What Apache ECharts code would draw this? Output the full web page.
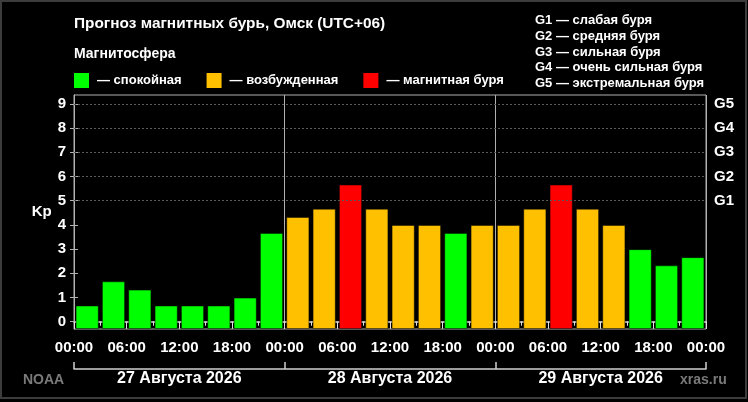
<!DOCTYPE html>
<html><head><meta charset="utf-8">
<script src="https://cdn.jsdelivr.net/npm/echarts@6/dist/echarts.min.js"></script>
<style>
html,body{margin:0;padding:0;background:#000;}
#wrap{position:relative;width:748px;height:402px;}
#c{width:748px;height:402px;}
#frame{position:absolute;left:0;top:0;width:747px;height:399px;box-sizing:border-box;border:2px solid #3c3c3c;pointer-events:none;}
</style>
</head><body>
<div id="wrap"><div id="c"></div><div id="frame"></div></div>
<script>
const categories = [
  '27 00:00','27 03:00','27 06:00','27 09:00','27 12:00','27 15:00','27 18:00','27 21:00',
  '28 00:00','28 03:00','28 06:00','28 09:00','28 12:00','28 15:00','28 18:00','28 21:00',
  '29 00:00','29 03:00','29 06:00','29 09:00','29 12:00','29 15:00','29 18:00','29 21:00'
];
const kpValues = [
  0.67, 1.67, 1.33, 0.67, 0.67, 0.67, 1.0, 3.67,
  4.33, 4.67, 5.67, 4.67, 4.0, 4.0, 3.67, 4.0,
  4.0, 4.67, 5.67, 4.67, 4.0, 3.0, 2.33, 2.67
];
const kpTicks = [0, 1, 2, 3, 4, 5, 6, 7, 8, 9];
const gTicks = [5, 6, 7, 8, 9];
const gTickLabels = ['G1', 'G2', 'G3', 'G4', 'G5'];
const hourTickValues = [0, 6, 12, 18, 24, 30, 36, 42, 48, 54, 60, 66, 72];
const dayBoundaries = [0, 24, 48, 72];
const dayCenters = [12, 36, 60];
const dayLabels = ['27 Августа 2026', '28 Августа 2026', '29 Августа 2026'];
const legendNames = ['— спокойная', '— возбужденная', '— магнитная буря'];
const levelColors = ['#00ff00', '#ffc000', '#ff0000'];
const stormScale = [
  'G1 — слабая буря',
  'G2 — средняя буря',
  'G3 — сильная буря',
  'G4 — очень сильная буря',
  'G5 — экстремальная буря'
];
const titleText = 'Прогноз магнитных бурь, Омск (UTC+06)';
const subTitleText = 'Магнитосфера';

const FONT = '"Liberation Sans", Arial, sans-serif';
function levelOf(v) { return v >= 5 ? 2 : (v >= 4 ? 1 : 0); }
function pad(n) { return (n < 10 ? '0' : '') + n; }

const chart = echarts.init(document.getElementById('c'), null, {renderer: 'canvas'});
const option = {
  backgroundColor: '#000',
  animation: false,
  textStyle: {fontFamily: FONT},
  title: [
    {text: titleText, left: 74, top: 16, padding: 0,
     textStyle: {color: '#fff', fontSize: 15.4, fontWeight: 'bold', fontFamily: FONT}},
    {text: subTitleText, left: 74, top: 47, padding: 0,
     textStyle: {color: '#fff', fontSize: 14, fontWeight: 'bold', fontFamily: FONT}},
    {text: stormScale.join('\n'), left: 535, top: 13, padding: 0,
     textStyle: {color: '#fff', fontSize: 13, fontWeight: 'bold', lineHeight: 15.6, fontFamily: FONT}},
    {text: 'NOAA', left: 23, top: 373, padding: 0,
     textStyle: {color: '#7a7a7a', fontSize: 14, fontWeight: 'bold', fontFamily: FONT}},
    {text: 'xras.ru', left: 680, top: 373, padding: 0,
     textStyle: {color: '#7a7a7a', fontSize: 14, fontWeight: 'bold', fontFamily: FONT}}
  ],
  legend: {
    left: 74, top: 73, padding: 0, itemWidth: 15, itemHeight: 15, itemGap: 25,
    icon: 'rect', selectedMode: false,
    textStyle: {color: '#fff', fontSize: 13, fontWeight: 'bold', fontFamily: FONT, padding: [0, 0, 0, 3]},
    data: legendNames
  },
  grid: {left: 74, right: 42, top: 95, bottom: 73, show: true, borderColor: '#b0b0b0', borderWidth: 1, containLabel: false},
  xAxis: [
    {type: 'category', data: categories, show: false, boundaryGap: true},
    {type: 'value', min: 0, max: 72, interval: 6, position: 'bottom',
     axisLine: {show: true, lineStyle: {color: '#e0e0e0', width: 1.5}},
     axisTick: {show: true, length: 7, lineStyle: {color: '#e0e0e0'}},
     minorTick: {show: true, splitNumber: 2, length: 4, lineStyle: {color: '#e0e0e0'}},
     splitLine: {show: false},
     axisLabel: {color: '#fff', fontSize: 15, fontWeight: 'bold', margin: 11, fontFamily: FONT,
       customValues: hourTickValues, formatter: v => pad(v % 24) + ':00'}},
    {type: 'value', min: 0, max: 72, interval: 24, position: 'bottom', offset: 40,
     axisLine: {show: true, lineStyle: {color: '#d0d0d0', width: 1.5}},
     axisTick: {show: true, inside: true, length: 7, lineStyle: {color: '#d0d0d0', width: 1.5}},
     splitLine: {show: true, lineStyle: {color: '#b0b0b0', width: 1}},
     axisLabel: {color: '#fff', fontSize: 16, fontWeight: 'bold', margin: 2, fontFamily: FONT,
       customValues: dayCenters, formatter: v => dayLabels[dayCenters.indexOf(v)]}}
  ],
  yAxis: [
    {type: 'value', min: -0.3, max: 9.37, startValue: -0.3, position: 'left',
     name: 'Kp', nameLocation: 'middle', nameRotate: 0, nameGap: 22,
     nameTextStyle: {color: '#fff', fontSize: 15, fontWeight: 'bold', fontFamily: FONT, padding: [4, 0, 0, 0]},
     axisLine: {show: true, lineStyle: {color: '#b0b0b0'}},
     axisTick: {show: true, length: 4, customValues: kpTicks, lineStyle: {color: '#b0b0b0'}},
     splitLine: {show: false},
     axisLabel: {color: '#fff', fontSize: 15, fontWeight: 'bold', margin: 8, customValues: kpTicks, fontFamily: FONT}},
    {type: 'value', min: -0.3, max: 9.37, position: 'right',
     axisLine: {show: true, lineStyle: {color: '#b0b0b0'}},
     axisTick: {show: true, length: 4, customValues: kpTicks, lineStyle: {color: '#b0b0b0'}},
     splitLine: {show: false},
     axisLabel: {color: '#fff', fontSize: 15, fontWeight: 'bold', margin: 8, customValues: gTicks, fontFamily: FONT,
       formatter: v => gTickLabels[gTicks.indexOf(v)]}}
  ],
  series: [
    {type: 'bar', name: 'Kp', xAxisIndex: 0, yAxisIndex: 0, barCategoryGap: '12%',
     data: kpValues,
     itemStyle: {color: p => levelColors[levelOf(p.value)], borderColor: 'rgba(0,0,0,0.45)', borderWidth: 1},
     markLine: {silent: true, symbol: 'none', label: {show: false},
       lineStyle: {color: '#5a5a5a', type: [2, 2], width: 1},
       data: gTicks.map(v => ({yAxis: v}))}},
    {type: 'line', name: legendNames[0], data: [], itemStyle: {color: levelColors[0]}},
    {type: 'line', name: legendNames[1], data: [], itemStyle: {color: levelColors[1]}},
    {type: 'line', name: legendNames[2], data: [], itemStyle: {color: levelColors[2]}}
  ]
};
chart.setOption(option);
</script>
</body></html>
